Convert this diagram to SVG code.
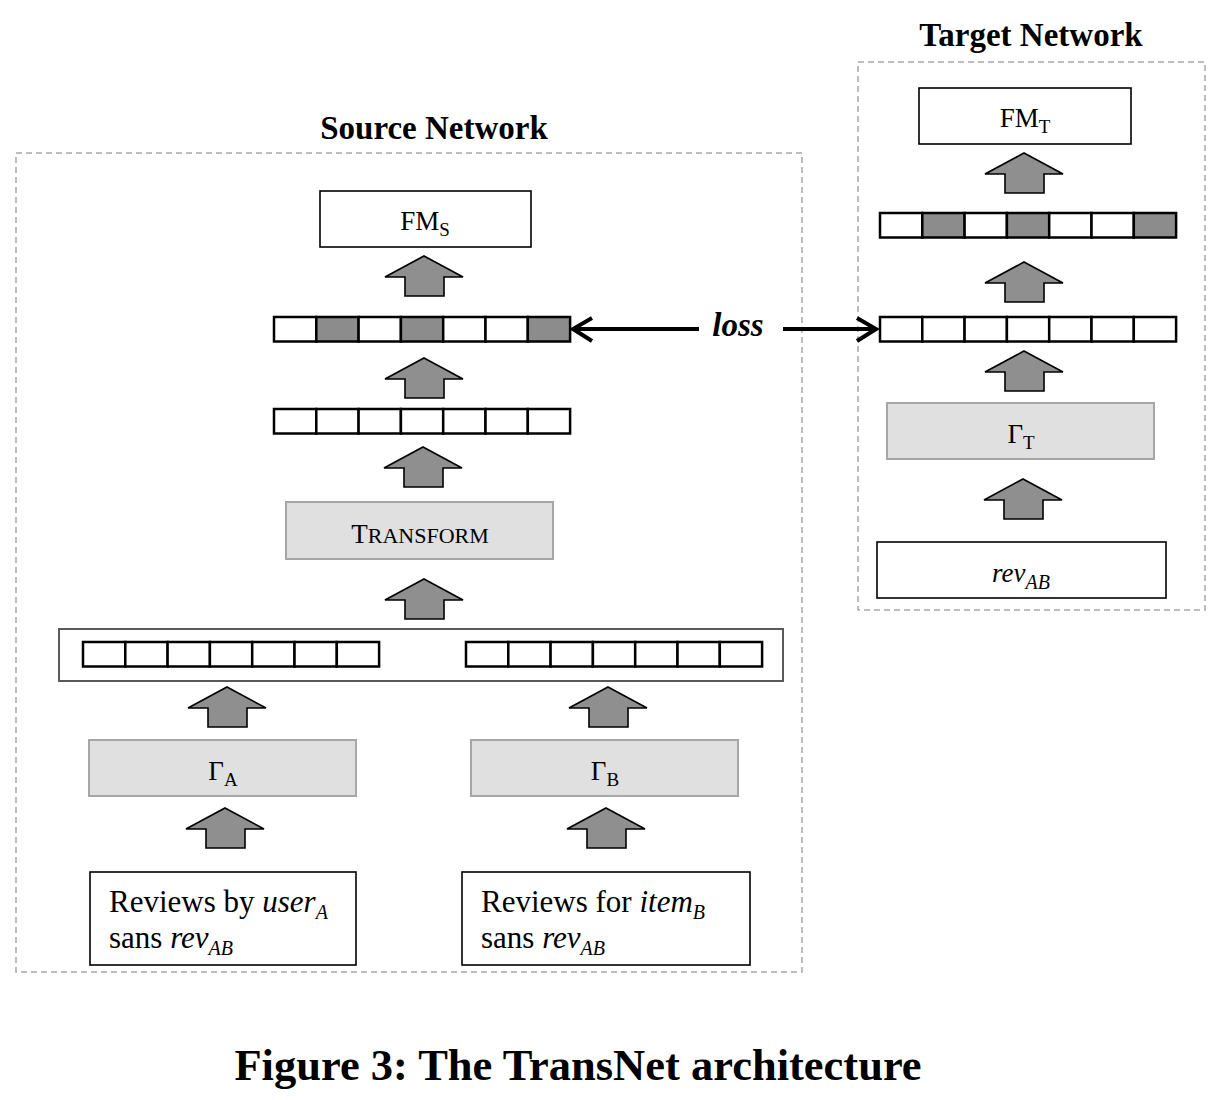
<svg xmlns="http://www.w3.org/2000/svg" xmlns:xlink="http://www.w3.org/1999/xlink" width="1218" height="1100" viewBox="0 0 1218 1100">
<style>
.bg{fill:#ffffff}
.dash{fill:none;stroke:#a8a8a8;stroke-width:1.5;stroke-dasharray:6,4}
.title{font-family:"Liberation Serif",serif;font-weight:bold;font-size:33px;fill:#000}
.lbl{font-family:"Liberation Serif",serif;font-size:27px;fill:#000}
.rv{font-family:"Liberation Serif",serif;font-size:31px;fill:#000}
.it{font-style:italic}
.wbox{fill:#fff;stroke:#000;stroke-width:1.6}
.gbox{fill:#e0e0e0;stroke:#a6a6a6;stroke-width:2}
.cell{fill:#fff;stroke:#000;stroke-width:2.5}
.dark{fill:#8c8c8c;stroke:#000;stroke-width:2.5}
.blk{fill:#8f8f8f;stroke:#000;stroke-width:1.6;stroke-linejoin:miter}
.loss{fill:none;stroke:#000;stroke-width:4}
.concat{fill:#fff;stroke:#5a5a5a;stroke-width:2}
</style>
<defs>
<path id="up" class="blk" d="M0,0 L39,21 L20,21 L20,40 L-19,40 L-19,21 L-39,21 Z"/>
<g id="vec">
<rect class="cell" x="0" y="0" width="42.3" height="24.5"/>
<rect class="cell" x="42.3" y="0" width="42.3" height="24.5"/>
<rect class="cell" x="84.6" y="0" width="42.3" height="24.5"/>
<rect class="cell" x="126.9" y="0" width="42.3" height="24.5"/>
<rect class="cell" x="169.2" y="0" width="42.3" height="24.5"/>
<rect class="cell" x="211.5" y="0" width="42.3" height="24.5"/>
<rect class="cell" x="253.8" y="0" width="42.3" height="24.5"/>
</g>
<g id="vecS">
<rect class="cell" x="0" y="0" width="42.3" height="24.5"/>
<rect class="dark" x="42.3" y="0" width="42.3" height="24.5"/>
<rect class="cell" x="84.6" y="0" width="42.3" height="24.5"/>
<rect class="dark" x="126.9" y="0" width="42.3" height="24.5"/>
<rect class="cell" x="169.2" y="0" width="42.3" height="24.5"/>
<rect class="cell" x="211.5" y="0" width="42.3" height="24.5"/>
<rect class="dark" x="253.8" y="0" width="42.3" height="24.5"/>
</g>
</defs>
<rect class="bg" x="0" y="0" width="1218" height="1100"/>

<g id="source-network">
<rect class="dash" x="16" y="153" width="786" height="819"/>
<text class="title" x="434" y="139" text-anchor="middle">Source Network</text>
</g>
<g id="target-network">
<rect class="dash" x="858" y="62" width="347" height="548"/>
<text class="title" x="1031" y="46" text-anchor="middle">Target Network</text>
</g>

<g id="fm-s">
<rect class="wbox" x="320" y="191" width="211" height="56"/>
<text class="lbl" x="425" y="230" text-anchor="middle">FM<tspan font-size="19" dy="6">S</tspan></text>
</g>
<g id="vec-s-out"><use xlink:href="#vecS" x="274" y="317"/></g>
<g id="vec-s-mid"><use xlink:href="#vec" x="274" y="409"/></g>
<g id="transform">
<rect class="gbox" x="286" y="502" width="267" height="57"/>
<text class="lbl" x="420" y="543" text-anchor="middle" font-size="28">T<tspan font-size="22">RANSFORM</tspan></text>
</g>
<g id="concat">
<rect class="concat" x="59" y="629" width="724" height="52"/>
<use xlink:href="#vec" x="83" y="642"/>
<use xlink:href="#vec" x="466" y="642"/>
</g>
<g id="gamma-a">
<rect class="gbox" x="89" y="740" width="267" height="56"/>
<text class="lbl" x="223" y="780" text-anchor="middle">Γ<tspan font-size="19" dy="6">A</tspan></text>
</g>
<g id="gamma-b">
<rect class="gbox" x="471" y="740" width="267" height="56"/>
<text class="lbl" x="605" y="780" text-anchor="middle">Γ<tspan font-size="19" dy="6">B</tspan></text>
</g>
<g id="reviews-user">
<rect class="wbox" x="90" y="872" width="266" height="93"/>
<text class="rv" x="109" y="912">Reviews by <tspan class="it">user</tspan><tspan class="it" font-size="20" dy="7">A</tspan></text>
<text class="rv" x="109" y="948">sans <tspan class="it">rev</tspan><tspan class="it" font-size="20" dy="7">AB</tspan></text>
</g>
<g id="reviews-item">
<rect class="wbox" x="462" y="872" width="288" height="93"/>
<text class="rv" x="481" y="912">Reviews for <tspan class="it">item</tspan><tspan class="it" font-size="20" dy="7">B</tspan></text>
<text class="rv" x="481" y="948">sans <tspan class="it">rev</tspan><tspan class="it" font-size="20" dy="7">AB</tspan></text>
</g>

<g id="fm-t">
<rect class="wbox" x="919" y="88" width="212" height="56"/>
<text class="lbl" x="1025" y="127" text-anchor="middle">FM<tspan font-size="19" dy="6">T</tspan></text>
</g>
<g id="vec-t-out"><use xlink:href="#vecS" x="880" y="213"/></g>
<g id="vec-t-mid"><use xlink:href="#vec" x="880" y="317"/></g>
<g id="gamma-t">
<rect class="gbox" x="887" y="403" width="267" height="56"/>
<text class="lbl" x="1021" y="443" text-anchor="middle">Γ<tspan font-size="19" dy="6">T</tspan></text>
</g>
<g id="rev-ab">
<rect class="wbox" x="877" y="542" width="289" height="56"/>
<text class="lbl it" x="1021" y="582" text-anchor="middle" font-size="30">rev<tspan font-size="20" dy="7">AB</tspan></text>
</g>

<g id="connectors">
<use xlink:href="#up" x="424" y="256"/>
<use xlink:href="#up" x="424" y="358"/>
<use xlink:href="#up" x="423" y="447"/>
<use xlink:href="#up" x="424" y="579"/>
<use xlink:href="#up" x="227" y="687"/>
<use xlink:href="#up" x="608" y="687"/>
<use xlink:href="#up" x="225" y="808"/>
<use xlink:href="#up" x="606" y="808"/>
<use xlink:href="#up" x="1024" y="153"/>
<use xlink:href="#up" x="1024" y="262"/>
<use xlink:href="#up" x="1024" y="351"/>
<use xlink:href="#up" x="1023" y="479"/>
<path class="loss" d="M699,329 L573,329 M592,318 L573,329 L592,341"/>
<path class="loss" d="M783,329 L876,329 M857,318 L876,329 L857,341"/>
<text x="738" y="336" text-anchor="middle" font-family="Liberation Serif, serif" font-weight="bold" font-style="italic" font-size="33">loss</text>
</g>

<text x="578" y="1080" text-anchor="middle" font-family="Liberation Serif, serif" font-weight="bold" font-size="44.5">Figure 3: The TransNet architecture</text>
</svg>
